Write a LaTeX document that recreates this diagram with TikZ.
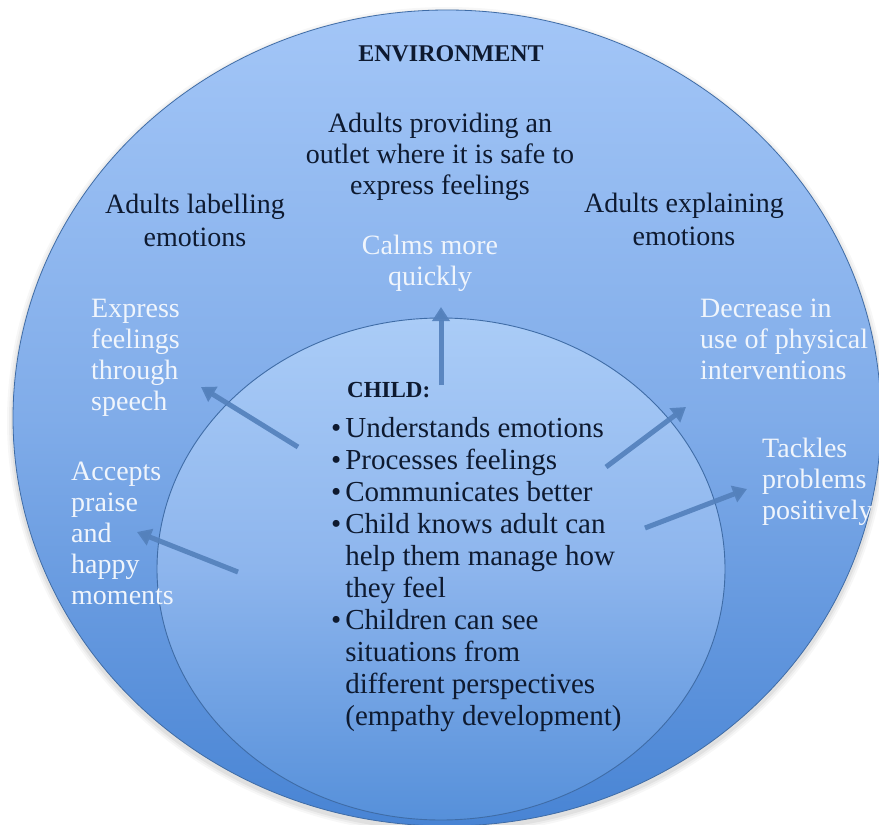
\documentclass[tikz,border=0pt]{standalone}
\usepackage{fontspec}
\setmainfont{Liberation Serif}
\usetikzlibrary{arrows.meta}
\definecolor{outerTop}{HTML}{A3C6F7}
\definecolor{outerMid}{HTML}{80ACE9}
\definecolor{outerBot}{HTML}{4884D4}
\definecolor{innerTop}{HTML}{AACCF7}
\definecolor{innerMid}{HTML}{8DB5ED}
\definecolor{innerBot}{HTML}{5690DA}
\definecolor{rim}{HTML}{3F6CA6}
\definecolor{arrowc}{HTML}{5481BC}
\definecolor{ink}{HTML}{0E1A30}
\definecolor{pale}{HTML}{F0F5FC}
\newcommand{\linesC}[1]{\begin{tabular}[t]{@{}c@{}}#1\end{tabular}}
\newcommand{\linesL}[1]{\begin{tabular}[t]{@{}l@{}}#1\end{tabular}}
\tikzset{
  envtext/.style={anchor=base, inner sep=0pt, text=ink, font=\fontsize{28}{33}\selectfont},
  whitetext/.style={inner sep=0pt, text=pale, font=\fontsize{28}{31}\selectfont},
  outcome/.style={line width=5pt, draw=arrowc, draw opacity=0.92,
    -{Triangle[width=17pt,length=14pt]}, shorten <=0pt},
}
\begin{document}
\begin{tikzpicture}[x=1pt,y=-1pt]
\useasboundingbox (0,0) rectangle (879,825);
\fill[white] (0,0) rectangle (879,825);
% soft shadow
\foreach \k/\o in {6/0.03,4/0.04,2/0.05}{
  \fill[black, opacity=\o] (447,421) ellipse [x radius=434+\k, y radius=408+\k];
}
% outer environment
\draw[rim, line width=0.8pt, top color=outerTop, bottom color=outerBot, middle color=outerMid]
  (447,418) ellipse [x radius=434, y radius=408];
% inner child
\draw[rim, line width=0.9pt, top color=innerTop, bottom color=innerBot, middle color=innerMid]
  (441,569) ellipse [x radius=284, y radius=251];

% titles and environment factors
\node[envtext, font=\bfseries\fontsize{24}{28}\selectfont] (env) at (451,61) {ENVIRONMENT};
\node[envtext, font=\fontsize{28}{31}\selectfont] (safe) at (440,132)
  {\linesC{Adults providing an\\outlet where it is safe to\\express feelings}};
\node[envtext] (label) at (195,213) {\linesC{Adults labelling\\emotions}};
\node[envtext] (explain) at (684,212) {\linesC{Adults explaining\\emotions}};

% outcomes (white)
\node[whitetext, anchor=base] (calm) at (430,254) {\linesC{Calms more\\quickly}};
\node[whitetext, anchor=base west] (speech) at (91,317) {\linesL{Express\\feelings\\through\\speech}};
\node[whitetext, anchor=base west] (praise) at (71,480) {\linesL{Accepts\\praise\\and\\happy\\moments}};
\node[whitetext, anchor=base west] (physical) at (700,317) {\linesL{Decrease in\\use of physical\\interventions}};
\node[whitetext, anchor=base west] (tackle) at (762,457) {\linesL{Tackles\\problems\\positively}};

% child
\node[anchor=base west, inner sep=0pt, text=ink, font=\bfseries\fontsize{23}{28}\selectfont] (child) at (347,397) {CHILD:};
\node[anchor=base west, inner sep=0pt, text=ink, font=\fontsize{29}{32}\selectfont] (list) at (331,437)
  {\begin{tabular}[t]{@{}l@{\hspace{4pt}}l@{}}
   \textbullet & Understands emotions\\
   \textbullet & Processes feelings\\
   \textbullet & Communicates better\\
   \textbullet & Child knows adult can\\
               & help them manage how\\
               & they feel\\
   \textbullet & Children can see\\
               & situations from\\
               & different perspectives\\
               & (empathy development)
   \end{tabular}};

% arrows
\coordinate (upT) at (441,385);   \coordinate (upH) at (441,307);
\coordinate (ulT) at (298,447);   \coordinate (ulH) at (201,387);
\coordinate (llT) at (238,572);   \coordinate (llH) at (137,532);
\coordinate (urT) at (606,467);   \coordinate (urH) at (686,407);
\coordinate (lrT) at (645,528);   \coordinate (lrH) at (747,489);
\draw[outcome] (upT) -- (upH);
\draw[outcome] (ulT) -- (ulH);
\draw[outcome] (llT) -- (llH);
\draw[outcome] (urT) -- (urH);
\draw[outcome] (lrT) -- (lrH);
\end{tikzpicture}
\end{document}
